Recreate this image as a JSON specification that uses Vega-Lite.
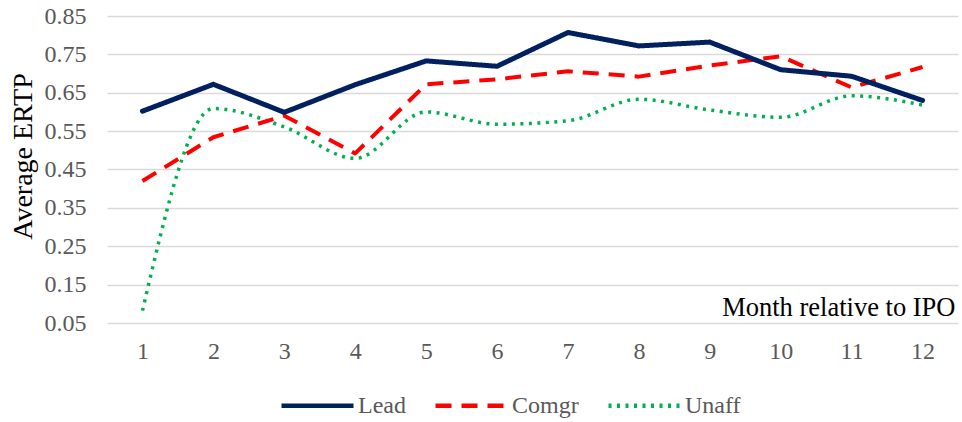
{
  "$schema": "https://vega.github.io/schema/vega-lite/v6.json",
  "width": 851,
  "height": 307,
  "autosize": {"type": "none"},
  "padding": {"left": 107, "top": 16, "right": 4, "bottom": 99},
  "background": "white",
  "config": {
    "view": {"stroke": null},
    "font": "Liberation Serif",
    "style": {
      "guide-label": {"font": "Liberation Serif", "fontSize": 24, "fill": "#595959"},
      "guide-title": {"font": "Liberation Serif"}
    },
    "legend": {
      "labelFont": "Liberation Serif",
      "labelFontSize": 24,
      "labelColor": "#595959",
      "symbolType": "stroke",
      "symbolSize": 5184,
      "symbolStrokeWidth": 4.5,
      "labelOffset": 2,
      "columnPadding": 20,
      "padding": 0
    }
  },
  "data": {
    "values": [
      {"month": 1, "series": "Lead", "value": 0.602},
      {"month": 2, "series": "Lead", "value": 0.672},
      {"month": 3, "series": "Lead", "value": 0.599},
      {"month": 4, "series": "Lead", "value": 0.671},
      {"month": 5, "series": "Lead", "value": 0.733},
      {"month": 6, "series": "Lead", "value": 0.719},
      {"month": 7, "series": "Lead", "value": 0.807},
      {"month": 8, "series": "Lead", "value": 0.772},
      {"month": 9, "series": "Lead", "value": 0.782},
      {"month": 10, "series": "Lead", "value": 0.710},
      {"month": 11, "series": "Lead", "value": 0.693},
      {"month": 12, "series": "Lead", "value": 0.630},
      {"month": 1, "series": "Comgr", "value": 0.420},
      {"month": 2, "series": "Comgr", "value": 0.534},
      {"month": 3, "series": "Comgr", "value": 0.590},
      {"month": 4, "series": "Comgr", "value": 0.492},
      {"month": 5, "series": "Comgr", "value": 0.672},
      {"month": 6, "series": "Comgr", "value": 0.685},
      {"month": 7, "series": "Comgr", "value": 0.706},
      {"month": 8, "series": "Comgr", "value": 0.692},
      {"month": 9, "series": "Comgr", "value": 0.721},
      {"month": 10, "series": "Comgr", "value": 0.745},
      {"month": 11, "series": "Comgr", "value": 0.664},
      {"month": 12, "series": "Comgr", "value": 0.717},
      {"month": 1, "series": "Unaff", "value": 0.082},
      {"month": 2, "series": "Unaff", "value": 0.609},
      {"month": 3, "series": "Unaff", "value": 0.561},
      {"month": 4, "series": "Unaff", "value": 0.479},
      {"month": 5, "series": "Unaff", "value": 0.600},
      {"month": 6, "series": "Unaff", "value": 0.568},
      {"month": 7, "series": "Unaff", "value": 0.577},
      {"month": 8, "series": "Unaff", "value": 0.633},
      {"month": 9, "series": "Unaff", "value": 0.605},
      {"month": 10, "series": "Unaff", "value": 0.586},
      {"month": 11, "series": "Unaff", "value": 0.642},
      {"month": 12, "series": "Unaff", "value": 0.618}
    ]
  },
  "encoding": {
    "x": {
      "field": "month",
      "type": "ordinal",
      "scale": {"type": "point", "padding": 0.5},
      "axis": {
        "labelAngle": 0,
        "domain": false,
        "ticks": false,
        "grid": false,
        "labelFont": "Liberation Serif",
        "labelFontSize": 24,
        "labelColor": "#595959",
        "labelPadding": 16,
        "labelBaseline": "top",
        "title": "Month relative to IPO",
        "titleFont": "Liberation Serif",
        "titleFontSize": 26.5,
        "titleFontWeight": "normal",
        "titleColor": "#000000",
        "titleAnchor": "end",
        "titleAlign": "right",
        "titleBaseline": "alphabetic",
        "titleX": 848,
        "titleY": -8
      }
    },
    "y": {
      "field": "value",
      "type": "quantitative",
      "scale": {"domain": [0.05, 0.85], "nice": false, "zero": false},
      "axis": {
        "values": [0.05, 0.15, 0.25, 0.35, 0.45, 0.55, 0.65, 0.75, 0.85],
        "format": ".2f",
        "domain": false,
        "ticks": false,
        "grid": true,
        "gridColor": "#d9d9d9",
        "gridWidth": 1.5,
        "labelFont": "Liberation Serif",
        "labelFontSize": 24,
        "labelColor": "#595959",
        "labelPadding": 21,
        "title": "Average ERTP",
        "titleFont": "Liberation Serif",
        "titleFontSize": 28,
        "titleFontWeight": "normal",
        "titleColor": "#000000",
        "titleAngle": -90,
        "titleAlign": "center",
        "titleBaseline": "alphabetic",
        "titleX": -76,
        "titleY": 140
      }
    },
    "color": {
      "field": "series",
      "type": "nominal",
      "scale": {
        "domain": ["Lead", "Comgr", "Unaff"],
        "range": ["#002060", "#ff0000", "#00b050"]
      },
      "legend": {
        "title": null,
        "orient": "none",
        "direction": "horizontal",
        "legendX": 172,
        "legendY": 351
      }
    },
    "strokeDash": {
      "field": "series",
      "type": "nominal",
      "scale": {
        "domain": ["Lead", "Comgr", "Unaff"],
        "range": [[1, 0], [16, 10], [3, 5.5]]
      },
      "legend": {
        "title": null,
        "orient": "none",
        "direction": "horizontal",
        "legendX": 172,
        "legendY": 351
      }
    }
  },
  "layer": [
    {
      "transform": [{"filter": "datum.series === 'Unaff'"}],
      "mark": {"type": "line", "strokeWidth": 3.5, "strokeCap": "butt", "interpolate": "monotone"}
    },
    {
      "transform": [{"filter": "datum.series === 'Comgr'"}],
      "mark": {"type": "line", "strokeWidth": 4, "strokeCap": "butt", "strokeJoin": "round"}
    },
    {
      "transform": [{"filter": "datum.series === 'Lead'"}],
      "mark": {"type": "line", "strokeWidth": 5, "strokeCap": "round", "strokeJoin": "round"}
    }
  ]
}
